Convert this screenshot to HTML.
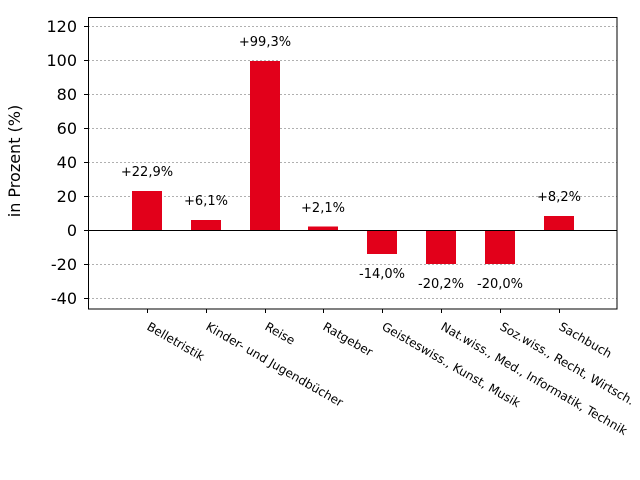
<!DOCTYPE html>
<html><head><meta charset="utf-8"><style>html,body{margin:0;padding:0;background:#fff}svg{display:block}</style></head>
<body>
<svg width="640" height="480" xmlns="http://www.w3.org/2000/svg" font-family="DejaVu Sans, Liberation Sans, sans-serif">
<rect width="640" height="480" fill="#fff"/>
<g stroke="#b0b0b0" stroke-width="1" stroke-dasharray="2,2">
<line x1="88" x2="617" y1="26.5" y2="26.5"/>
<line x1="88" x2="617" y1="60.5" y2="60.5"/>
<line x1="88" x2="617" y1="94.5" y2="94.5"/>
<line x1="88" x2="617" y1="128.5" y2="128.5"/>
<line x1="88" x2="617" y1="162.5" y2="162.5"/>
<line x1="88" x2="617" y1="196.5" y2="196.5"/>
<line x1="88" x2="617" y1="264.5" y2="264.5"/>
<line x1="88" x2="617" y1="298.5" y2="298.5"/>
</g>
<g fill="#e2001a">
<rect x="132" y="191" width="30" height="39"/>
<rect x="191" y="220" width="30" height="10"/>
<rect x="250" y="61" width="30" height="169"/>
<rect x="308" y="226.5" width="30" height="3.5"/>
<rect x="367" y="230" width="30" height="24"/>
<rect x="426" y="230" width="30" height="34"/>
<rect x="485" y="230" width="30" height="34"/>
<rect x="544" y="216" width="30" height="14"/>
</g>
<line x1="88" x2="617" y1="230.5" y2="230.5" stroke="#000"/>
<rect x="88.5" y="17.5" width="528.5" height="291.5" fill="none" stroke="#000"/>
<g stroke="#000">
<line x1="84" x2="88" y1="26.5" y2="26.5"/><line x1="84" x2="88" y1="60.5" y2="60.5"/><line x1="84" x2="88" y1="94.5" y2="94.5"/><line x1="84" x2="88" y1="128.5" y2="128.5"/><line x1="84" x2="88" y1="162.5" y2="162.5"/><line x1="84" x2="88" y1="196.5" y2="196.5"/><line x1="84" x2="88" y1="230.5" y2="230.5"/><line x1="84" x2="88" y1="264.5" y2="264.5"/><line x1="84" x2="88" y1="298.5" y2="298.5"/>
<line x1="147.5" x2="147.5" y1="309" y2="313"/><line x1="206.5" x2="206.5" y1="309" y2="313"/><line x1="265.5" x2="265.5" y1="309" y2="313"/><line x1="323.5" x2="323.5" y1="309" y2="313"/><line x1="382.5" x2="382.5" y1="309" y2="313"/><line x1="441.5" x2="441.5" y1="309" y2="313"/><line x1="500.5" x2="500.5" y1="309" y2="313"/><line x1="559.5" x2="559.5" y1="309" y2="313"/>
</g>
<g font-size="16" text-anchor="end" fill="#000">
<text x="77" y="32">120</text><text x="77" y="66">100</text><text x="77" y="100">80</text><text x="77" y="134">60</text><text x="77" y="168">40</text><text x="77" y="202">20</text><text x="77" y="236">0</text><text x="77" y="270">-20</text><text x="77" y="304">-40</text>
</g>
<text transform="translate(20,161) rotate(-90)" font-size="16" text-anchor="middle">in Prozent (%)</text>
<g font-size="13" text-anchor="middle">
<text x="147" y="176">+22,9%</text>
<text x="206" y="205">+6,1%</text>
<text x="265" y="46">+99,3%</text>
<text x="323" y="212">+2,1%</text>
<text x="382" y="278">-14,0%</text>
<text x="441" y="288">-20,2%</text>
<text x="500" y="288">-20,0%</text>
<text x="559" y="201">+8,2%</text>
</g>
<g font-size="12">
<text transform="translate(146,329) rotate(30)">Belletristik</text>
<text transform="translate(205,329) rotate(30)">Kinder- und Jugendbücher</text>
<text transform="translate(264,329) rotate(30)">Reise</text>
<text transform="translate(322,329) rotate(30)">Ratgeber</text>
<text transform="translate(381,329) rotate(30)">Geisteswiss., Kunst, Musik</text>
<text transform="translate(440,329) rotate(30)">Nat.wiss., Med., Informatik, Technik</text>
<text transform="translate(499,329) rotate(30)">Soz.wiss., Recht, Wirtsch.</text>
<text transform="translate(558,329) rotate(30)">Sachbuch</text>
</g>
</svg>
</body></html>
